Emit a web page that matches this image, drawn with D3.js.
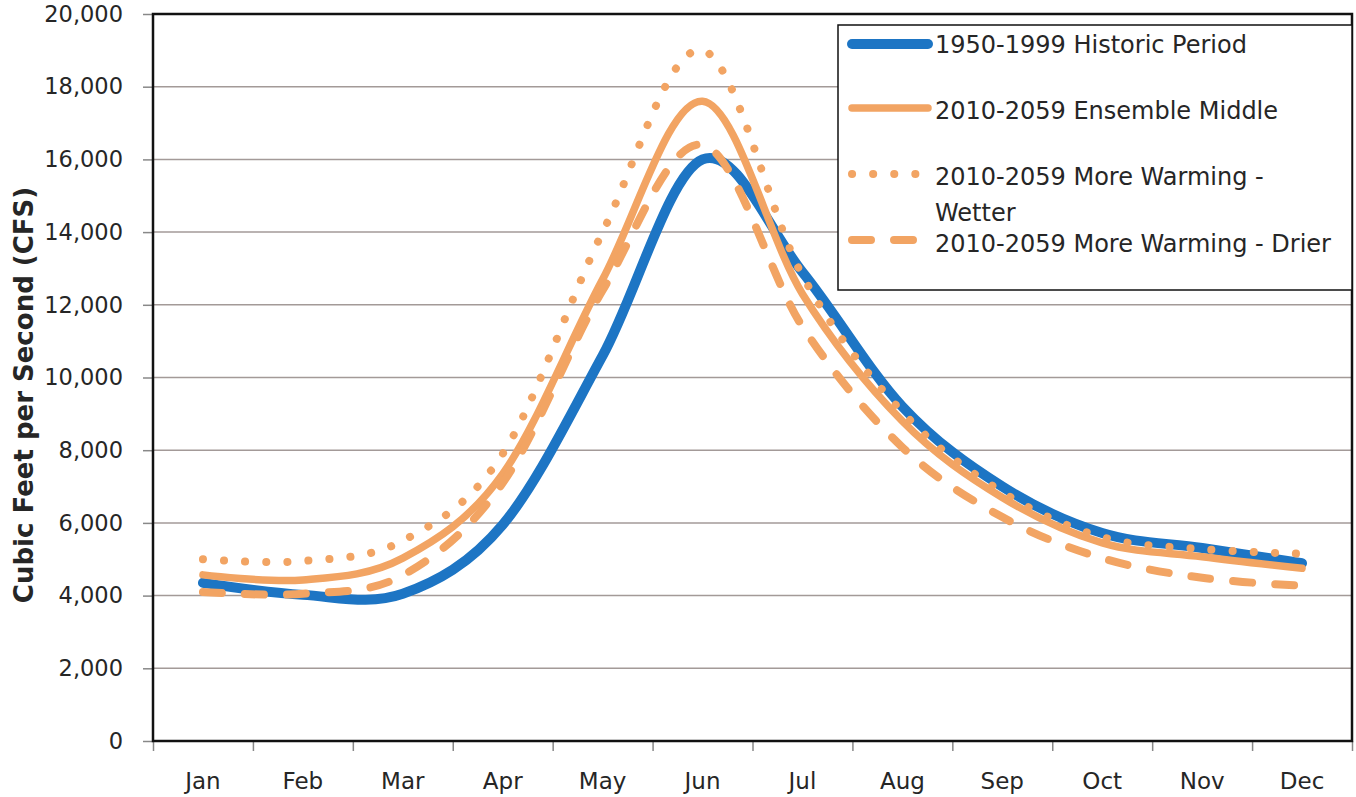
<!DOCTYPE html>
<html>
<head>
<meta charset="utf-8">
<script src="https://cdn.jsdelivr.net/npm/d3@7"></script>
<style>
  body { margin: 0; background: #fff; }
  svg { display: block; font-family: "DejaVu Sans", sans-serif; }
</style>
</head>
<body>
<svg id="chart"></svg>
<script>
// monthly flows, cubic feet per second
const months = ["Jan", "Feb", "Mar", "Apr", "May", "Jun", "Jul", "Aug", "Sep", "Oct", "Nov", "Dec"];
const historic = [4350, 4020, 4050, 5950, 10600, 16000, 12900, 9200, 7000, 5720, 5310, 4890];
const ensemble = [4570, 4430, 5030, 7350, 12700, 17600, 12300, 8800, 6700, 5450, 5070, 4750];
const wetter = [5000, 4950, 5510, 7900, 14000, 19000, 12800, 9050, 6850, 5610, 5280, 5150];
const drier = [4100, 4050, 4560, 7100, 12400, 16400, 11400, 8080, 6160, 5030, 4490, 4270];
const yTicks = [0, 2000, 4000, 6000, 8000, 10000, 12000, 14000, 16000, 18000, 20000];

const width = 1356, height = 797;
const plotL = 153, plotR = 1352, plotT = 14, plotB = 741;
const blue = "#1d75c4", orange = "#f2a463";
const textColor = "#262626";

const svg = d3.select("#chart")
    .attr("width", width)
    .attr("height", height)
    .attr("viewBox", `0 0 ${width} ${height}`);

const x = d3.scaleLinear().domain([0, 12]).range([plotL, plotR]);
const y = d3.scaleLinear().domain([0, 20000]).range([plotB, plotT]);

// gridlines
svg.append("g")
    .selectAll("line")
    .data(yTicks.slice(1, -1))
    .join("line")
    .attr("x1", plotL).attr("x2", plotR)
    .attr("y1", d => y(d)).attr("y2", d => y(d))
    .attr("stroke", "#a39a98")
    .attr("stroke-width", 1.5);

// y axis
const yAxis = svg.append("g")
    .attr("transform", `translate(${plotL},0)`)
    .call(d3.axisLeft(y).tickValues(yTicks).tickFormat(d3.format(",")).tickSize(10).tickPadding(20));
yAxis.select(".domain").remove();
yAxis.selectAll(".tick line").attr("stroke", "#888").attr("stroke-width", 1.5);
yAxis.selectAll("text")
    .attr("font-family", "DejaVu Sans")
    .attr("font-size", 22.5)
    .attr("fill", textColor);

// x axis, ticks between categories
const xAxis = svg.append("g")
    .attr("transform", `translate(0,${plotB})`)
    .call(d3.axisBottom(x).tickValues(d3.range(0, 13)).tickFormat("").tickSize(10));
xAxis.select(".domain").remove();
xAxis.selectAll(".tick line").attr("stroke", "#888").attr("stroke-width", 1.5);

svg.append("g")
    .selectAll("text")
    .data(months)
    .join("text")
    .attr("x", (d, i) => x(i + 0.5))
    .attr("y", 789)
    .attr("text-anchor", "middle")
    .attr("font-size", 23)
    .attr("fill", textColor)
    .text(d => d);

// plot frame
svg.append("rect")
    .attr("x", plotL).attr("y", plotT)
    .attr("width", plotR - plotL).attr("height", plotB - plotT)
    .attr("fill", "none")
    .attr("stroke", "#111")
    .attr("stroke-width", 2.5);

svg.append("text")
    .attr("transform", "translate(33,395) rotate(-90)")
    .attr("text-anchor", "middle")
    .attr("font-size", 26)
    .attr("font-weight", "bold")
    .attr("fill", textColor)
    .text("Cubic Feet per Second (CFS)");

const line = d3.line()
    .x((d, i) => x(i + 0.5))
    .y(d => y(d))
    .curve(d3.curveCatmullRom.alpha(0));

const series = [
    { name: "1950-1999 Historic Period", values: historic, color: blue, w: 10, dash: null },
    { name: "2010-2059 Ensemble Middle", values: ensemble, color: orange, w: 7.5, dash: null },
    { name: "2010-2059 More Warming - Wetter", values: wetter, color: orange, w: 8, dash: "0.1,21" },
    { name: "2010-2059 More Warming - Drier", values: drier, color: orange, w: 8, dash: "19,23" }
];

svg.append("g")
    .selectAll("path")
    .data(series)
    .join("path")
    .attr("d", d => line(d.values))
    .attr("fill", "none")
    .attr("stroke", d => d.color)
    .attr("stroke-width", d => d.w)
    .attr("stroke-linecap", "round")
    .attr("stroke-dasharray", d => d.dash);

// legend
const legend = svg.append("g");
legend.append("rect")
    .attr("x", 838).attr("y", 25)
    .attr("width", 514).attr("height", 265)
    .attr("fill", "#fff")
    .attr("stroke", "#111")
    .attr("stroke-width", 1.5);

const rows = [44, 108, 174, 240];
legend.selectAll("line.sample")
    .data(series)
    .join("line")
    .attr("class", "sample")
    .attr("x1", 852).attr("x2", (d, i) => i === 2 ? 920 : 928)
    .attr("y1", (d, i) => rows[i]).attr("y2", (d, i) => rows[i])
    .attr("stroke", d => d.color)
    .attr("stroke-width", d => d.w)
    .attr("stroke-linecap", "round")
    .attr("stroke-dasharray", d => d.dash);

const labels = [
    { t: "1950-1999 Historic Period", y: 53 },
    { t: "2010-2059 Ensemble Middle", y: 119 },
    { t: "2010-2059 More Warming -", y: 185 },
    { t: "Wetter", y: 221 },
    { t: "2010-2059 More Warming - Drier", y: 252 }
];
legend.selectAll("text")
    .data(labels)
    .join("text")
    .attr("x", 935)
    .attr("y", d => d.y)
    .attr("font-size", 24)
    .attr("fill", textColor)
    .text(d => d.t);
</script>
</body>
</html>
